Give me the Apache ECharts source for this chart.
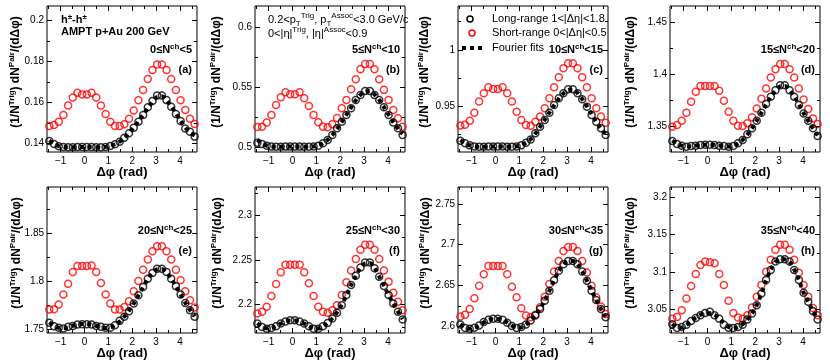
<!DOCTYPE html>
<html><head><meta charset="utf-8">
<script src="https://cdn.jsdelivr.net/npm/echarts@6/dist/echarts.min.js"></script>
<style>html,body{margin:0;padding:0;background:#fff}#c{width:830px;height:362px}</style>
</head><body><div id="c"></div><script>
// bin centres of delta-phi (rad)
const dphi = [-1.473,-1.276,-1.080,-0.884,-0.687,-0.491,-0.295,-0.098,0.098,0.295,0.491,0.687,0.884,1.080,1.276,1.473,1.669,1.865,2.062,2.258,2.454,2.651,2.847,3.043,3.240,3.436,3.632,3.829,4.025,4.221,4.418,4.614];
const xTicks = [-1,0,1,2,3,4];
const xMinorTicks = [-1.5,-0.5,0.5,1.5,2.5,3.5,4.5];

const shortA = [0.1485,0.1490,0.1506,0.1538,0.1585,0.1624,0.1647,0.1639,0.1639,0.1647,0.1624,0.1585,0.1543,0.1506,0.1485,0.1485,0.1493,0.1520,0.1560,0.1610,0.1660,0.1714,0.1758,0.1785,0.1785,0.1758,0.1714,0.1660,0.1610,0.1563,0.1520,0.1494];
const longA  = [0.1412,0.1397,0.1386,0.1382,0.1381,0.1381,0.1382,0.1382,0.1382,0.1382,0.1381,0.1381,0.1382,0.1387,0.1396,0.1408,0.1428,0.1449,0.1476,0.1506,0.1538,0.1576,0.1607,0.1634,0.1634,0.1611,0.1579,0.1543,0.1509,0.1473,0.1457,0.1433];
const fitA   = [0.1414,0.1398,0.1387,0.1382,0.1381,0.1381,0.1382,0.1382,0.1382,0.1382,0.1381,0.1381,0.1383,0.1387,0.1396,0.1409,0.1427,0.1450,0.1477,0.1507,0.1539,0.1572,0.1603,0.1626,0.1630,0.1611,0.1581,0.1546,0.1510,0.1477,0.1455,0.1438];
const yTicksA = [0.14,0.16,0.18,0.2];

const shortB = [0.5168,0.5170,0.5204,0.5268,0.5352,0.5416,0.5458,0.5441,0.5441,0.5458,0.5408,0.5344,0.5268,0.5207,0.5170,0.5165,0.5190,0.5243,0.5324,0.5394,0.5483,0.5567,0.5651,0.5695,0.5695,0.5651,0.5567,0.5478,0.5394,0.5310,0.5240,0.5170];
const longB  = [0.5036,0.5025,0.5011,0.5003,0.5002,0.5002,0.5003,0.5003,0.5003,0.5003,0.5002,0.5002,0.5004,0.5011,0.5031,0.5059,0.5100,0.5156,0.5212,0.5268,0.5324,0.5394,0.5436,0.5469,0.5469,0.5436,0.5394,0.5332,0.5268,0.5204,0.5156,0.5100];
const fitB   = [0.5060,0.5030,0.5012,0.5004,0.5002,0.5002,0.5003,0.5003,0.5003,0.5003,0.5002,0.5002,0.5005,0.5013,0.5031,0.5060,0.5100,0.5152,0.5210,0.5270,0.5330,0.5390,0.5436,0.5464,0.5466,0.5440,0.5394,0.5334,0.5270,0.5208,0.5154,0.5110];
const yTicksB = [0.5,0.55,0.6];

const shortC = [0.9327,0.9333,0.9369,0.9440,0.9539,0.9613,0.9667,0.9652,0.9652,0.9667,0.9613,0.9539,0.9449,0.9375,0.9330,0.9324,0.9360,0.9405,0.9479,0.9568,0.9667,0.9756,0.9836,0.9881,0.9881,0.9836,0.9756,0.9667,0.9568,0.9479,0.9405,0.9351];
const longC  = [0.9190,0.9167,0.9149,0.9140,0.9137,0.9137,0.9140,0.9140,0.9140,0.9140,0.9137,0.9137,0.9140,0.9149,0.9173,0.9202,0.9256,0.9315,0.9375,0.9440,0.9509,0.9568,0.9613,0.9649,0.9649,0.9613,0.9560,0.9494,0.9420,0.9360,0.9301,0.9241];
const fitC   = [0.9195,0.9168,0.9150,0.9140,0.9137,0.9137,0.9139,0.9140,0.9140,0.9139,0.9137,0.9137,0.9141,0.9150,0.9172,0.9204,0.9254,0.9313,0.9376,0.9440,0.9505,0.9565,0.9612,0.9642,0.9645,0.9615,0.9562,0.9496,0.9425,0.9358,0.9298,0.9248];
const yTicksC = [0.95,1];

const shortD = [1.3497,1.3513,1.3554,1.3631,1.3737,1.3833,1.3888,1.3888,1.3888,1.3888,1.3843,1.3747,1.3641,1.3554,1.3506,1.3503,1.3529,1.3587,1.3673,1.3766,1.3865,1.3971,1.4051,1.4100,1.4100,1.4051,1.3971,1.3865,1.3760,1.3667,1.3577,1.3522];
const longD  = [1.3359,1.3330,1.3314,1.3304,1.3311,1.3314,1.3320,1.3324,1.3324,1.3320,1.3314,1.3311,1.3304,1.3311,1.3337,1.3369,1.3423,1.3481,1.3554,1.3631,1.3715,1.3785,1.3849,1.3897,1.3897,1.3849,1.3785,1.3705,1.3625,1.3554,1.3481,1.3407];
const fitD   = [1.3362,1.3333,1.3314,1.3307,1.3310,1.3315,1.3320,1.3323,1.3323,1.3320,1.3315,1.3310,1.3307,1.3314,1.3335,1.3370,1.3421,1.3483,1.3554,1.3630,1.3710,1.3784,1.3846,1.3886,1.3890,1.3852,1.3788,1.3710,1.3628,1.3552,1.3483,1.3412];
const yTicksD = [1.35,1.4,1.45];

const shortE = [1.7703,1.7707,1.7755,1.7859,1.7972,1.8093,1.8155,1.8155,1.8155,1.8162,1.8093,1.7979,1.7859,1.7766,1.7703,1.7703,1.7731,1.7790,1.7893,1.8000,1.8117,1.8224,1.8310,1.8362,1.8362,1.8310,1.8224,1.8117,1.8007,1.7893,1.7800,1.7724];
const longE  = [1.7566,1.7531,1.7514,1.7507,1.7524,1.7534,1.7548,1.7552,1.7552,1.7548,1.7534,1.7524,1.7514,1.7514,1.7541,1.7586,1.7628,1.7686,1.7766,1.7852,1.7938,1.8024,1.8083,1.8128,1.8128,1.8093,1.8024,1.7945,1.7859,1.7772,1.7697,1.7628];
const fitE   = [1.7570,1.7535,1.7514,1.7510,1.7520,1.7535,1.7547,1.7553,1.7553,1.7547,1.7535,1.7520,1.7512,1.7517,1.7540,1.7580,1.7632,1.7692,1.7766,1.7850,1.7936,1.8020,1.8085,1.8120,1.8125,1.8090,1.8025,1.7946,1.7860,1.7775,1.7700,1.7632];
const yTicksE = [1.75,1.8,1.85];

const shortF = [2.1898,2.1917,2.1974,2.2094,2.2229,2.2361,2.2444,2.2444,2.2444,2.2444,2.2361,2.2237,2.2094,2.1974,2.1917,2.1906,2.1936,2.1992,2.2105,2.2248,2.2380,2.2511,2.2613,2.2669,2.2669,2.2613,2.2511,2.2380,2.2256,2.2132,2.2030,2.1936];
const longF  = [2.1786,2.1748,2.1729,2.1737,2.1756,2.1786,2.1808,2.1823,2.1823,2.1808,2.1786,2.1756,2.1729,2.1729,2.1756,2.1793,2.1842,2.1906,2.1992,2.2105,2.2218,2.2323,2.2414,2.2470,2.2470,2.2406,2.2312,2.2207,2.2105,2.2011,2.1917,2.1831];
const fitF   = [2.1790,2.1752,2.1732,2.1735,2.1756,2.1785,2.1809,2.1820,2.1820,2.1809,2.1785,2.1756,2.1733,2.1730,2.1752,2.1792,2.1845,2.1912,2.1995,2.2102,2.2215,2.2320,2.2408,2.2460,2.2465,2.2410,2.2315,2.2210,2.2105,2.2012,2.1920,2.1835];
const yTicksF = [2.2,2.25,2.3];

const shortG = [2.6118,2.6138,2.6211,2.6341,2.6496,2.6638,2.6740,2.6740,2.6740,2.6740,2.6638,2.6484,2.6354,2.6220,2.6130,2.6110,2.6138,2.6232,2.6362,2.6516,2.6671,2.6801,2.6923,2.6972,2.6972,2.6923,2.6801,2.6659,2.6496,2.6354,2.6240,2.6150];
const longG  = [2.6020,2.5976,2.5967,2.5980,2.6008,2.6049,2.6077,2.6089,2.6089,2.6077,2.6041,2.6000,2.5976,2.5988,2.6020,2.6069,2.6130,2.6211,2.6313,2.6435,2.6565,2.6679,2.6760,2.6801,2.6801,2.6760,2.6671,2.6557,2.6435,2.6321,2.6211,2.6110];
const fitG   = [2.6025,2.5985,2.5968,2.5978,2.6008,2.6045,2.6075,2.6088,2.6088,2.6075,2.6045,2.6006,2.5980,2.5985,2.6020,2.6070,2.6132,2.6212,2.6315,2.6435,2.6562,2.6675,2.6758,2.6798,2.6800,2.6758,2.6672,2.6558,2.6435,2.6320,2.6212,2.6115];
const yTicksG = [2.6,2.65,2.7,2.75];

const shortH = [3.0379,3.0402,3.0491,3.0647,3.0812,3.0973,3.1094,3.1138,3.1129,3.1116,3.0973,3.0826,3.0616,3.0455,3.0393,3.0379,3.0424,3.0527,3.0670,3.0826,3.1004,3.1161,3.1295,3.1362,3.1362,3.1295,3.1161,3.0991,3.0826,3.0670,3.0522,3.0424];
const longH  = [3.0304,3.0254,3.0268,3.0299,3.0348,3.0388,3.0424,3.0455,3.0469,3.0424,3.0379,3.0299,3.0259,3.0254,3.0268,3.0299,3.0366,3.0446,3.0558,3.0714,3.0893,3.1027,3.1138,3.1170,3.1170,3.1138,3.1027,3.0893,3.0723,3.0603,3.0478,3.0366];
const fitH   = [3.0310,3.0265,3.0262,3.0295,3.0345,3.0392,3.0430,3.0452,3.0452,3.0430,3.0385,3.0320,3.0268,3.0252,3.0268,3.0305,3.0366,3.0448,3.0560,3.0710,3.0885,3.1030,3.1130,3.1165,3.1168,3.1135,3.1030,3.0893,3.0725,3.0600,3.0480,3.0370];
const yTicksH = [3.05,3.1,3.15,3.2];

const nchLabels = ['0≤N|ch|<5','5≤N|ch|<10','10≤N|ch|<15','15≤N|ch|<20','20≤N|ch|<25','25≤N|ch|<30','30≤N|ch|<35','35≤N|ch|<40'];
const panelLetters = ['(a)','(b)','(c)','(d)','(e)','(f)','(g)','(h)'];

const panels = [
  {s:shortA,l:longA,f:fitA,min:0.1358,max:0.2070,t:yTicksA,tg:31},
  {s:shortB,l:longB,f:fitB,min:0.4958,max:0.6180,t:yTicksB,tg:38},
  {s:shortC,l:longC,f:fitC,min:0.9090,max:1.0390,t:yTicksC,tg:33},
  {s:shortD,l:longD,f:fitD,min:1.3253,max:1.4660,t:yTicksD,tg:39},
  {s:shortE,l:longE,f:fitE,min:1.7460,max:1.8977,t:yTicksE,tg:30},
  {s:shortF,l:longF,f:fitF,min:2.1680,max:2.3317,t:yTicksF,tg:37},
  {s:shortG,l:longG,f:fitG,min:2.5915,max:2.7710,t:yTicksG,tg:32},
  {s:shortH,l:longH,f:fitH,min:3.0188,max:3.2130,t:yTicksH,tg:39}
];

const FONT = 'Liberation Sans, Arial, Helvetica, sans-serif';
const lefts = [47,255,458,670], tops = [6,187], PW = 150, PH = 146;
const XMIN = -Math.PI/2, XMAX = 3*Math.PI/2;

const grid = [], xAxis = [], yAxis = [], series = [], graphic = [];
const fmt = v => (v < 0 ? '\u2212' + Math.abs(v) : String(v));

panels.forEach((p, k) => {
  const L = lefts[k % 4], T = tops[Math.floor(k / 4)];
  grid.push({left: L, top: T, width: PW, height: PH, show: true, borderColor: '#000', borderWidth: 1, backgroundColor: 'transparent'});
  const step = p.t[1] - p.t[0];
  const yMinor = [];
  for (let v = p.t[0] - step / 2; v < p.max; v += step) if (v > p.min) yMinor.push(+v.toFixed(4));
  const baseX = (pos, vals, len, labels) => ({
    gridIndex: k, type: 'value', min: XMIN, max: XMAX, position: pos,
    axisLine: {show: false, onZero: false}, splitLine: {show: false},
    axisTick: {show: true, inside: true, length: len, customValues: vals, lineStyle: {color: '#000', width: 1}},
    axisLabel: labels ? {show: true, customValues: xTicks, formatter: fmt, fontSize: 10, color: '#000', fontFamily: FONT, margin: 4} : {show: false}
  });
  const baseY = (pos, vals, len, labels) => ({
    gridIndex: k, type: 'value', min: p.min, max: p.max, position: pos,
    axisLine: {show: false, onZero: false}, splitLine: {show: false},
    axisTick: {show: true, inside: true, length: len, customValues: vals, lineStyle: {color: '#000', width: 1}},
    axisLabel: labels ? {show: true, customValues: p.t, formatter: v => String(+v.toFixed(4)), fontSize: 10, color: '#000', fontFamily: FONT, margin: 3} : {show: false}
  });
  const xi = xAxis.length, yi = yAxis.length;
  xAxis.push(baseX('bottom', xTicks, 5, true), baseX('bottom', xMinorTicks, 3, false), baseX('top', xTicks, 5, false), baseX('top', xMinorTicks, 3, false));
  yAxis.push(baseY('left', p.t, 5, true), baseY('left', yMinor, 3, false), baseY('right', p.t, 5, false), baseY('right', yMinor, 3, false));

  series.push({
    type: 'scatter', xAxisIndex: xi, yAxisIndex: yi, symbol: 'circle', symbolSize: 7, z: 3,
    itemStyle: {color: 'rgba(0,0,0,0)', borderColor: '#ff0000', borderWidth: 1.5},
    data: dphi.map((x, i) => [x, p.s[i]])
  });
  series.push({
    type: 'scatter', xAxisIndex: xi, yAxisIndex: yi, symbol: 'circle', symbolSize: 7, z: 3,
    itemStyle: {color: 'rgba(0,0,0,0)', borderColor: '#000', borderWidth: 1.5},
    data: dphi.map((x, i) => [x, p.l[i]])
  });
  series.push({
    type: 'line', xAxisIndex: xi, yAxisIndex: yi, showSymbol: false, smooth: 0.3, z: 4,
    lineStyle: {color: '#000', width: 4, type: [4, 4]},
    data: dphi.map((x, i) => [x, p.f[i]])
  });

  graphic.push({
    type: 'text', x: L - p.tg, y: T + PH / 2 - 7, rotation: Math.PI / 2, silent: true,
    style: {
      text: '{m|(1/N}{s|Trig}{m|) dN}{s|Pair}{m|/(dΔφ)}', align: 'center', verticalAlign: 'middle',
      rich: {
        m: {fontSize: 12, fontWeight: 'bold', fontFamily: FONT, fill: '#000', lineHeight: 16, verticalAlign: 'middle'},
        s: {fontSize: 8, fontWeight: 'bold', fontFamily: FONT, fill: '#000', lineHeight: 16, verticalAlign: 'top'}
      }
    }
  });
  graphic.push({
    type: 'text', x: L + PW / 2, y: T + PH + 20, silent: true,
    style: {text: 'Δφ (rad)', align: 'center', verticalAlign: 'middle', fontSize: 13, fontWeight: 'bold', fontFamily: FONT, fill: '#000'}
  });
  const parts = nchLabels[k].split('|');
  graphic.push({
    type: 'text', x: L + PW - 5, y: T + 44, silent: true,
    style: {
      text: '{m|' + parts[0] + '}{s|' + parts[1] + '}{m|' + parts[2] + '}', align: 'right', verticalAlign: 'middle',
      rich: {
        m: {fontSize: 11, fontWeight: 'bold', fontFamily: FONT, fill: '#000', lineHeight: 14, verticalAlign: 'middle'},
        s: {fontSize: 8, fontWeight: 'bold', fontFamily: FONT, fill: '#000', lineHeight: 14, verticalAlign: 'top'}
      }
    }
  });
  graphic.push({
    type: 'text', x: L + PW - 5, y: T + 64, silent: true,
    style: {text: panelLetters[k], align: 'right', verticalAlign: 'middle', fontSize: 11, fontWeight: 'bold', fontFamily: FONT, fill: '#000'}
  });
});

const reg = {
  r: {fontSize: 11, fontFamily: FONT, fill: '#000', lineHeight: 16, verticalAlign: 'middle'},
  s: {fontSize: 8, fontFamily: FONT, fill: '#000', lineHeight: 16, verticalAlign: 'top'},
  b: {fontSize: 8, fontFamily: FONT, fill: '#000', lineHeight: 16, verticalAlign: 'bottom'}
};
graphic.push(
  {type: 'text', x: 61, y: 20, silent: true, style: {text: '{m|h}{s|±}{m|-h}{s|±}', verticalAlign: 'middle',
    rich: {m: {fontSize: 11, fontWeight: 'bold', fontFamily: FONT, fill: '#000', lineHeight: 14, verticalAlign: 'middle'},
           s: {fontSize: 8, fontWeight: 'bold', fontFamily: FONT, fill: '#000', lineHeight: 14, verticalAlign: 'top'}}}},
  {type: 'text', x: 61, y: 32, silent: true, style: {text: 'AMPT p+Au 200 GeV', verticalAlign: 'middle', fontSize: 11, fontWeight: 'bold', fontFamily: FONT, fill: '#000'}},
  {type: 'text', x: 268, y: 20, silent: true, style: {text: '{r|0.2<p}{b|T}{s|Trig}{r|, p}{b|T}{s|Assoc}{r|<3.0 GeV/c}', verticalAlign: 'middle', rich: reg}},
  {type: 'text', x: 268, y: 34, silent: true, style: {text: '{r|0<|η|}{s|Trig}{r|, |η|}{s|Assoc}{r|<0.9}', verticalAlign: 'middle', rich: reg}},
  {type: 'circle', silent: true, shape: {cx: 470, cy: 19, r: 3}, style: {fill: 'none', stroke: '#000', lineWidth: 1.5}},
  {type: 'circle', silent: true, shape: {cx: 472, cy: 33, r: 3}, style: {fill: 'none', stroke: '#ff0000', lineWidth: 1.5}},
  {type: 'line', silent: true, shape: {x1: 462, y1: 48, x2: 485, y2: 48}, style: {stroke: '#000', lineWidth: 4, lineDash: [4, 4]}},
  {type: 'text', x: 492, y: 19, silent: true, style: {text: 'Long-range 1<|Δη|<1.8', verticalAlign: 'middle', fontSize: 11, fontFamily: FONT, fill: '#000'}},
  {type: 'text', x: 492, y: 33, silent: true, style: {text: 'Short-range 0<|Δη|<0.5', verticalAlign: 'middle', fontSize: 11, fontFamily: FONT, fill: '#000'}},
  {type: 'text', x: 492, y: 48, silent: true, style: {text: 'Fourier fits', verticalAlign: 'middle', fontSize: 11, fontFamily: FONT, fill: '#000'}}
);

const chart = echarts.init(document.getElementById('c'), null, {renderer: 'canvas'});
chart.setOption({animation: false, backgroundColor: '#fff', grid, xAxis, yAxis, series, graphic});
</script></body></html>
